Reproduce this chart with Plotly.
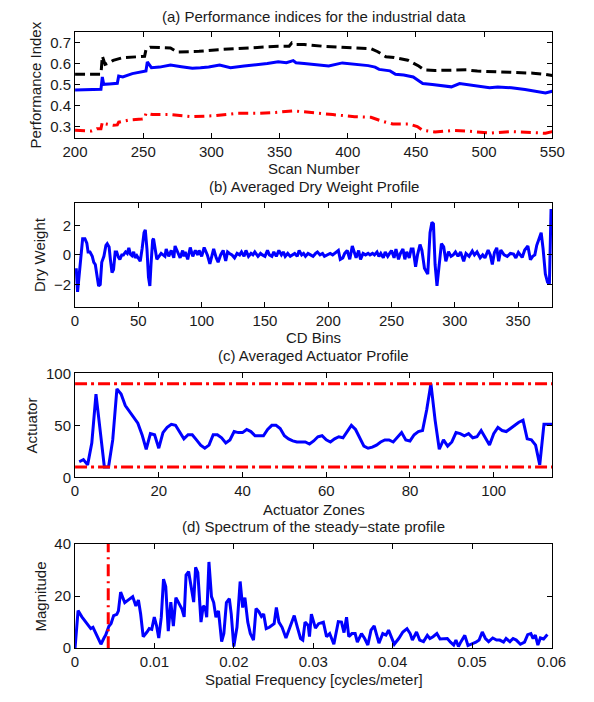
import plotly.graph_objects as go

# ---------------- data ----------------
# (a) performance indices
scan_black = [200, 205, 210, 215, 219, 220, 221, 222, 225, 228, 235, 242, 249, 251, 252, 255, 262, 270, 275, 282, 291, 305, 319, 333, 349, 357, 359, 361, 368, 382, 394, 408, 417, 422, 428, 434, 444, 452, 456, 464, 475, 487, 495, 504, 520, 536, 545, 550]
perf_black = [0.551, 0.551, 0.551, 0.551, 0.551, 0.637, 0.61, 0.598, 0.605, 0.617, 0.63, 0.632, 0.633, 0.636, 0.668, 0.679, 0.678, 0.676, 0.657, 0.657, 0.66, 0.668, 0.673, 0.679, 0.684, 0.684, 0.70, 0.693, 0.693, 0.684, 0.68, 0.675, 0.673, 0.658, 0.634, 0.631, 0.618, 0.59, 0.572, 0.569, 0.57, 0.572, 0.566, 0.564, 0.56, 0.556, 0.55, 0.545]

scan_blue = [200, 205, 210, 215, 219, 220, 221, 225, 230, 231, 232, 235, 242, 250, 252, 253, 256, 262, 270, 278, 286, 292, 298, 306, 314, 324, 333, 341, 349, 355, 360, 362, 368, 375, 386, 396, 408, 415, 420, 423, 431, 435, 441, 448, 452, 455, 462, 469, 476, 482, 490, 497, 504, 510, 520, 530, 540, 545, 550]
perf_blue = [0.476, 0.477, 0.478, 0.478, 0.48, 0.538, 0.503, 0.505, 0.506, 0.508, 0.542, 0.538, 0.554, 0.563, 0.566, 0.61, 0.582, 0.585, 0.595, 0.587, 0.58, 0.582, 0.586, 0.595, 0.582, 0.59, 0.595, 0.602, 0.61, 0.606, 0.616, 0.606, 0.602, 0.597, 0.59, 0.605, 0.597, 0.592, 0.585, 0.574, 0.567, 0.551, 0.547, 0.538, 0.52, 0.507, 0.502, 0.496, 0.491, 0.507, 0.5, 0.495, 0.487, 0.49, 0.487, 0.478, 0.468, 0.462, 0.47]

scan_red = [200, 212, 216, 219, 220, 222, 228, 231, 232, 240, 249, 251, 252, 257, 270, 286, 303, 319, 333, 347, 360, 375, 389, 405, 417, 424, 433, 445, 451, 455, 464, 478, 487, 504, 520, 540, 545, 550]
perf_red = [0.284, 0.281, 0.292, 0.292, 0.323, 0.315, 0.308, 0.31, 0.323, 0.334, 0.338, 0.34, 0.365, 0.359, 0.359, 0.349, 0.354, 0.365, 0.365, 0.369, 0.377, 0.369, 0.359, 0.349, 0.346, 0.33, 0.314, 0.314, 0.302, 0.284, 0.276, 0.284, 0.281, 0.271, 0.278, 0.272, 0.27, 0.278]

# (b) averaged dry weight profile
cd_bins = [0, 1, 2, 3.5, 4.8, 6, 7.8, 9.3, 10.3, 11.8, 13.6, 14.8, 16, 17.4, 18.6, 19.9, 21.1, 22.8, 24.4, 25.4, 26.9, 27.9, 29.2, 30.4, 31.7, 32.9, 34.2, 35.4, 36.9, 38.2, 39.9, 41.2, 42.5, 43.7, 45, 46.3, 47.5, 48.8, 50, 51.5, 53, 54.5, 55.5, 56.8, 58, 59.1, 60, 61.3, 62, 63.6, 64.6,
           68, 71, 72, 74, 76, 78, 79, 81, 83, 85, 86, 87, 89, 91, 93, 95, 97, 98, 100, 102, 104.5, 106.5, 108, 109.5, 111.5, 113, 115, 117, 119, 120.5, 122, 124, 126, 128, 130, 131.5, 133.5, 135, 137, 139, 140.5, 142, 144.5, 146.5, 148, 150, 152, 153.5, 155.5, 157, 159, 161, 163, 164.5, 166, 168, 170, 172, 173.5, 175.5, 177, 179, 180.5, 182, 184, 186, 188, 190, 191.5, 193.5, 195.5, 197, 199.5, 201.5, 203.5, 206, 208, 209.5, 211.5, 213, 215, 217, 219, 220.5, 222, 224, 225.5, 227.5, 229.5, 231.5, 233, 235, 236.5, 238.5, 240, 241.5, 243.5, 245, 247, 248.5, 250, 252, 253.5, 255.5, 257, 259, 260.5, 262, 264, 265.5, 267, 269, 270.5, 272.5, 274,
           276, 278.6, 280.4, 281.9, 283.1, 284.4, 285.9, 287.4, 289.4, 291.2, 292.9, 295, 297, 298.7, 300.5, 302.5, 304.5, 307, 308.8, 311.3, 313.8, 315.5, 317.5, 320, 322, 323.8, 326.3, 328, 329.6, 331.3, 333.1, 334.6, 336.3, 338.9, 341.4, 343.9, 346.4, 348.2, 350.2, 353.2, 355.2, 357.7, 359.7, 361.5, 363.2, 364.7, 366.7, 368.2, 369.7, 371.5, 373.2, 374.7, 376]
dry_weight = [-1.0, -1.0, -2.5, -1.0, 0.4, 1.1, 1.1, 0.8, 0.2, 0.2, -0.1, -0.5, -0.65, -1.6, -2.1, -2.0, -0.5, -0.1, 0.65, 0.76, 0.54, -0.3, -1.2, -1.0, 0.2, 0.2, -0.15, -0.3, 0.0, 0.0, 0.2, 0.1, 0.48, 0.05, -0.05, 0.2, -0.2, -0.05, -0.2, -0.43, 0.43, 1.5, 1.7, 0.4, -1.5, -2.1, -0.65, 1.0, 1.1, 0.0, -0.3,
              0.1, -0.1, 0.4, -0.1, 0.3, -0.2, 0.6, 0.2, -0.2, 0.3, -0.1, 0.2, -0.3, 0.5, -0.1, 0.3, 0.0, 0.3, -0.1, 0.5, 0.0, -0.6, 0.0, 0.4, -0.2, -0.5, 0.0, 0.3, -0.4, 0.2, 0.1, 0.0, -0.2, 0.1, 0.0, 0.2, -0.1, 0.3, -0.1, 0.1, 0.0, 0.2, -0.1, 0.1, 0.0, -0.1, 0.3, 0.0, -0.1, 0.2, -0.1, 0.3, 0.0, 0.2, -0.1, 0.1, -0.1, 0.0, 0.1, -0.1, 0.3, 0.0, 0.1, -0.1, 0.1, 0.0, -0.1, 0.1, 0.2, 0.0, 0.1, -0.1, 0.0, 0.1, 0.0, 0.2, 0.3, -0.3, -0.2, 0.1, 0.3, -0.3, 0.6, 0.2, -0.2, 0.3, -0.3, 0.1, 0.0, 0.1, 0.0, 0.1, 0.0, 0.2, -0.1, 0.1, -0.2, 0.2, -0.1, 0.1, 0.3, -0.2, 0.4, -0.3, 0.1, 0.4, -0.3, 0.2, -0.2, 0.4, 0.4, -0.8, 0.0, 0.7, 0.3,
              -0.9, -1.3, 1.5, 2.2, 2.1, -0.65, -2.1, -0.65, 0.76, 0.54, -0.43, 0.22, -0.1, 0.0, 0.2, -0.1, 0.2, -0.43, 0.1, -0.1, 0.26, 0.0, 0.2, -0.2, 0.0, -0.2, 0.33, 0.0, -0.65, 0.17, 0.48, -0.43, 0.33, 0.0, -0.1, 0.1, 0.05, -0.2, 0.17, -0.17, 0.33, 0.6, -0.33, -0.1, 0.0, 0.65, 1.2, 1.5, 0.43, -1.3, -1.85, -1.95, 3.1]

# (c) averaged actuator profile
zones = list(range(1, 115))
actuator = [15, 17, 12, 33, 80, 44, 10, 10, 36, 85, 80, 69, 63, 57, 52, 41, 27, 42, 41, 28,
            43, 48, 51, 50, 43, 37, 41, 41, 36, 31, 28, 31, 41, 41, 38, 33, 36, 44, 43, 43,
            46, 44, 40, 40, 40, 46, 50, 50, 47, 40, 37, 35, 34, 34, 34, 32, 35, 39, 40, 36,
            34, 37, 39, 38, 44, 50, 46, 38, 30, 28, 29, 31, 34, 36, 36, 34, 39, 43, 36, 35,
            41, 44, 45, 65, 90, 55, 27, 36, 30, 34, 43, 42, 40, 42, 38, 39, 45, 38, 31, 42,
            48, 45, 44, 47, 50, 53, 55, 37, 36, 31, 12, 51, 51, 51]
act_limits = [10, 90]

# (d) spectrum of the steady-state profile
freq = [0.0, 0.00038, 0.00086, 0.00134, 0.00198, 0.00226, 0.00266, 0.00306, 0.00326, 0.00366, 0.00386, 0.00426, 0.00454, 0.00486, 0.00526, 0.00546, 0.00574, 0.00626, 0.00666, 0.00726, 0.00766, 0.00798, 0.00826, 0.00858, 0.00906, 0.00934, 0.00966, 0.00998, 0.01026, 0.01054, 0.01086, 0.01114, 0.01142, 0.01174, 0.01206, 0.01238, 0.0127, 0.01306, 0.01346, 0.01374, 0.01398, 0.0143, 0.01466, 0.01494, 0.01518, 0.01546, 0.01586, 0.01614, 0.01638, 0.01658, 0.01686, 0.01718, 0.01746, 0.01774, 0.01806, 0.01846, 0.01874, 0.01906, 0.01943, 0.01967, 0.01999, 0.02039, 0.02079, 0.02111, 0.02139, 0.02175, 0.02207, 0.02247, 0.02279, 0.02315, 0.02347, 0.02375, 0.02407, 0.02447, 0.02507, 0.02535, 0.02567, 0.02607, 0.02656, 0.02708, 0.0276, 0.028, 0.0284, 0.02868, 0.02896, 0.02936, 0.02952, 0.02976,
        0.03027, 0.03067, 0.03127, 0.03167, 0.03207, 0.03259, 0.03315, 0.03355, 0.03387, 0.03419, 0.03447, 0.03487, 0.03527, 0.03555, 0.03607, 0.03647, 0.03687, 0.03727, 0.03767, 0.03799, 0.03827, 0.03875, 0.03915, 0.03948, 0.03988, 0.0402, 0.04076, 0.04128, 0.0418, 0.0422, 0.04248, 0.043, 0.0434, 0.04388, 0.04436, 0.04468, 0.04508, 0.04556, 0.04596, 0.04636, 0.04688, 0.04728, 0.04768, 0.04796, 0.04828, 0.0486, 0.04908, 0.04948, 0.04996, 0.05048, 0.05088, 0.05128, 0.05168, 0.05208, 0.0526, 0.05308, 0.05348, 0.05396, 0.05428, 0.05476, 0.05516, 0.05556, 0.05608, 0.0566, 0.057, 0.0574, 0.05768, 0.05796, 0.05828, 0.0586, 0.059, 0.05948]
magnitude = [0.0, 14.4, 12.0, 10.2, 7.5, 8.0, 5.5, 2.5, 1.5, 4.0, 5.0, 8.4, 9.5, 12.5, 13.0, 14.3, 21.5, 17.5, 18.5, 19.8, 16.2, 18.5, 13.1, 4.4, 6.2, 7.5, 7.2, 11.9, 8.7, 3.9, 11.9, 26.5, 23.7, 6.5, 17.7, 8.5, 19.4, 17.5, 15.0, 12.0, 28.1, 29.4, 22.5, 17.7, 31.0, 29.0, 10.0, 16.2, 15.6, 11.9, 33.1, 19.8, 17.5, 11.9, 14.3, 2.5, 5.6, 17.5, 19.0, 13.1, 0.6, 8.0, 25.6, 15.6, 19.4, 10.0, 5.6, 3.1, 15.2, 14.0, 12.2, 13.1, 7.5, 8.0, 9.4, 15.6, 10.0, 8.0, 3.9, 8.5, 12.5, 8.0, 3.7, 3.1, 10.0, 8.7, 4.4, 13.1,
             7.7, 9.4, 10.0, 4.4, 5.6, 1.5, 10.2, 10.0, 6.0, 11.9, 4.4, 5.6, 5.6, 2.3, 5.6, 3.7, 1.2, 6.9, 8.5, 5.0, 1.9, 5.6, 5.0, 6.9, 3.7, 1.5, 3.7, 6.2, 7.5, 5.6, 3.1, 6.2, 3.1, 2.5, 4.9, 3.7, 4.4, 5.6, 3.5, 3.7, 3.7, 2.3, 1.2, 3.1, 0.6, 2.5, 4.9, 1.0, 1.5, 2.3, 3.1, 6.2, 3.7, 2.5, 3.9, 3.1, 3.1, 2.3, 3.7, 2.5, 3.7, 3.1, 1.5, 2.3, 5.2, 5.6, 3.7, 5.0, 1.2, 3.9, 3.5, 5.2]
freq_marker = 0.00418
mag_marker_span = [0, 40]

# ---------------- figure ----------------
W, H = 594, 702
X0, X1 = 65, 565
BLUE = "#0000ff"
RED = "#ff0000"
FONT = "Liberation Sans, Arial, sans-serif"
TXT = "#1a1a1a"

def ydom(top, bottom):
    return [1 - bottom / H, 1 - top / H]

panels = [
    dict(top=24, bottom=131.7),
    dict(top=199, bottom=305),
    dict(top=373.3, bottom=480),
    dict(top=548.3, bottom=655),
]

fig = go.Figure()

# (a)
fig.add_trace(go.Scatter(x=scan_black, y=perf_black, mode="lines", xaxis="x", yaxis="y",
                         line=dict(color="black", width=3, dash="10px,5px")))
fig.add_trace(go.Scatter(x=scan_blue, y=perf_blue, mode="lines", xaxis="x", yaxis="y",
                         line=dict(color=BLUE, width=3)))
fig.add_trace(go.Scatter(x=scan_red, y=perf_red, mode="lines", xaxis="x", yaxis="y",
                         line=dict(color=RED, width=3, dash="10px,5px,2px,5px")))
# (b)
fig.add_trace(go.Scatter(x=cd_bins, y=dry_weight, mode="lines", xaxis="x2", yaxis="y2",
                         line=dict(color=BLUE, width=3)))
# (c)
fig.add_trace(go.Scatter(x=zones, y=actuator, mode="lines", xaxis="x3", yaxis="y3",
                         line=dict(color=BLUE, width=3)))
for lim in act_limits:
    fig.add_trace(go.Scatter(x=[0, 114], y=[lim, lim], mode="lines", xaxis="x3", yaxis="y3",
                             line=dict(color=RED, width=3, dash="12px,4px,3px,4px")))
# (d)
fig.add_trace(go.Scatter(x=freq, y=magnitude, mode="lines", xaxis="x4", yaxis="y4",
                         line=dict(color=BLUE, width=3)))
fig.add_trace(go.Scatter(x=[freq_marker, freq_marker], y=mag_marker_span, mode="lines",
                         xaxis="x4", yaxis="y4",
                         line=dict(color=RED, width=3, dash="12px,5px,2px,5px")))

axis_common = dict(showline=True, linecolor="black", linewidth=1, mirror="ticks",
                   ticks="inside", ticklen=5, tickcolor="black", tickwidth=1,
                   showgrid=False, zeroline=False,
                   tickfont=dict(family=FONT, size=15, color=TXT))

xranges = [[200, 550], [0, 377], [0, 114], [0, 0.0601]]
xticks = [[200, 250, 300, 350, 400, 450, 500, 550],
          [0, 50, 100, 150, 200, 250, 300, 350],
          [0, 20, 40, 60, 80, 100],
          [0, 0.01, 0.02, 0.03, 0.04, 0.05, 0.06]]
yranges = [[0.25, 0.75], [-3.5, 3.5], [0, 100], [0, 40]]
yticks = [[0.3, 0.4, 0.5, 0.6, 0.7], [-2, 0, 2], [0, 50, 100], [0, 20, 40]]

layout = dict(width=W, height=H, margin=dict(l=0, r=0, t=0, b=0),
              paper_bgcolor="white", plot_bgcolor="white", showlegend=False,
              font=dict(family=FONT, size=15, color=TXT))
for i in range(4):
    sx = "" if i == 0 else str(i + 1)
    layout["xaxis" + sx] = dict(axis_common, domain=[X0 / W, X1 / W], range=xranges[i],
                                tickvals=xticks[i], anchor="y" + sx)
    layout["yaxis" + sx] = dict(axis_common, domain=ydom(panels[i]["top"], panels[i]["bottom"]),
                                range=yranges[i], tickvals=yticks[i], anchor="x" + sx)
layout["xaxis4"]["ticktext"] = ["0", "0.01", "0.02", "0.03", "0.04", "0.05", "0.06"]
layout["yaxis"]["ticktext"] = ["0.3", "0.4", "0.5", "0.6", "0.7"]
fig.update_layout(**layout)

cx = (X0 + X1) / 2 / W
titles = [("(a) Performance indices for the industrial data", 8),
          ("(b) Averaged Dry Weight Profile", 182),
          ("(c) Averaged Actuator Profile", 355),
          ("(d) Spectrum of the steady\u2212state profile", 530)]
xlabels = [("Scan Number", 163), ("CD Bins", 337), ("Actuator Zones", 513),
           ("Spatial Frequency [cycles/meter]", 687)]
ylabels = [("Performance Index", 23.5, 78), ("Dry Weight", 28.4, 252),
           ("Actuator", 19.7, 427), ("Magnitude", 28.4, 602)]
ann = []
for t, yc in titles + xlabels:
    ann.append(dict(text=t, x=cx, y=1 - yc / H, xref="paper", yref="paper",
                    xanchor="center", yanchor="middle", showarrow=False,
                    font=dict(family=FONT, size=15, color=TXT)))
for t, xc, yc in ylabels:
    ann.append(dict(text=t, x=xc / W, y=1 - yc / H, xref="paper", yref="paper",
                    xanchor="center", yanchor="middle", showarrow=False, textangle=-90,
                    font=dict(family=FONT, size=15, color=TXT)))
fig.update_layout(annotations=ann)

fig.write_html("out.html")
